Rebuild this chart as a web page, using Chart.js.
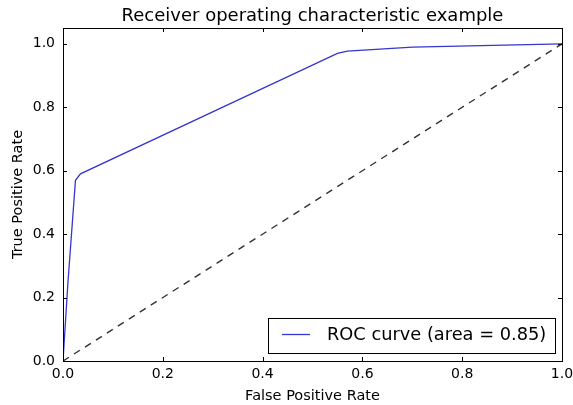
<!DOCTYPE html>
<html>
<head>
<meta charset="utf-8">
<script src="https://cdn.jsdelivr.net/npm/chart.js@4.4.0/dist/chart.umd.min.js"></script>
<style>
  html, body { margin: 0; padding: 0; background: #fff; }
  #wrap { width: 573px; height: 405px; }
</style>
</head>
<body>
<div id="wrap"><canvas id="roc"></canvas></div>
<script>
// ROC curve
var fpr = [0.0, 0.01, 0.025, 0.035, 0.55, 0.57, 0.70, 1.0]
var tpr = [0.0, 0.25, 0.57, 0.59, 0.97, 0.977, 0.99, 1.0]
var diagX = [0, 1]
var diagY = [0, 1]
var tickVals = [0.0, 0.2, 0.4, 0.6, 0.8, 1.0]
var legendText = 'ROC curve (area = 0.85)'
var titleText = 'Receiver operating characteristic example'

var FONT = "'DejaVu Sans', sans-serif"

function pts(xs, ys) {
    return xs.map(function (x, i) { return {x: x, y: ys[i]} })
}

// frame, inward ticks, title and legend box (matplotlib look)
var mplLook = {
    id: 'mplLook',
    afterDraw: function (chart) {
        var ctx = chart.ctx
        var a = chart.chartArea
        var sx = chart.scales.x, sy = chart.scales.y
        ctx.save()
        ctx.strokeStyle = '#000'
        ctx.lineWidth = 1
        ctx.strokeRect(Math.round(a.left) + 0.5, Math.round(a.top) + 0.5,
            Math.round(a.right - a.left), Math.round(a.bottom - a.top))
        ctx.beginPath()
        tickVals.forEach(function (v) {
            var px = Math.round(sx.getPixelForValue(v)) + 0.5
            ctx.moveTo(px, a.bottom); ctx.lineTo(px, a.bottom - 4)
            ctx.moveTo(px, a.top); ctx.lineTo(px, a.top + 4)
            var py = Math.round(sy.getPixelForValue(v)) + 0.5
            ctx.moveTo(a.left, py); ctx.lineTo(a.left + 4, py)
            ctx.moveTo(a.right, py); ctx.lineTo(a.right - 4, py)
        })
        ctx.stroke()

        // title
        ctx.fillStyle = '#000'
        ctx.font = '18px ' + FONT
        ctx.textAlign = 'center'
        ctx.textBaseline = 'alphabetic'
        ctx.fillText(titleText, (a.left + a.right) / 2, 21)

        // legend
        var bx = 268, by = 318, bw = 287, bh = 35
        ctx.fillStyle = '#fff'
        ctx.fillRect(bx, by, bw, bh)
        ctx.strokeRect(bx + 0.5, by + 0.5, bw, bh)
        ctx.strokeStyle = chart.data.datasets[0].borderColor
        ctx.lineWidth = 1.3
        ctx.beginPath()
        ctx.moveTo(bx + 14, by + 16.5)
        ctx.lineTo(bx + 42, by + 16.5)
        ctx.stroke()
        ctx.fillStyle = '#000'
        ctx.font = '17.8px ' + FONT
        ctx.textAlign = 'left'
        ctx.textBaseline = 'middle'
        ctx.fillText(legendText, bx + 59, by + 17)
        ctx.restore()
    }
}

new Chart(document.getElementById('roc'), {
    type: 'scatter',
    data: {
        datasets: [{
            label: legendText,
            data: pts(fpr, tpr),
            showLine: true,
            borderColor: '#3535cf',
            borderWidth: 1.3,
            pointRadius: 0,
            tension: 0
        }, {
            label: 'diag',
            data: pts(diagX, diagY),
            showLine: true,
            borderColor: '#333',
            borderWidth: 1.4,
            borderDash: [7, 6],
            pointRadius: 0
        }]
    },
    options: {
        responsive: true,
        maintainAspectRatio: false,
        animation: false,
        layout: { padding: { top: 28, right: 11, left: 0, bottom: 0 } },
        plugins: {
            legend: { display: false },
            tooltip: { enabled: false },
            title: { display: false }
        },
        scales: {
            x: {
                type: 'linear',
                min: 0, max: 1,
                afterBuildTicks: function (s) { s.ticks = tickVals.map(function (v) { return {value: v} }) },
                afterFit: function (s) { s.height = 44; s.paddingLeft = 0; s.paddingRight = 0 },
                grid: { display: false, drawTicks: false },
                border: { display: false },
                ticks: {
                    padding: 5,
                    color: '#000',
                    font: { family: FONT, size: 14 },
                    callback: function (v) { return v.toFixed(1) }
                },
                title: {
                    display: true,
                    text: 'False Positive Rate',
                    color: '#000',
                    font: { family: FONT, size: 14.5 },
                    padding: { top: 0, bottom: 0 }
                }
            },
            y: {
                type: 'linear',
                min: 0, max: 1.05,
                afterBuildTicks: function (s) { s.ticks = tickVals.map(function (v) { return {value: v} }) },
                afterFit: function (s) { s.width = 63; s.paddingTop = 0; s.paddingBottom = 0 },
                grid: { display: false, drawTicks: false },
                border: { display: false },
                ticks: {
                    padding: 8,
                    color: '#000',
                    font: { family: FONT, size: 14 },
                    callback: function (v) { return v.toFixed(1) }
                },
                title: {
                    display: true,
                    text: 'True Positive Rate',
                    color: '#000',
                    font: { family: FONT, size: 14.5 },
                    padding: { top: 10, bottom: 0 }
                }
            }
        }
    },
    plugins: [mplLook]
})
</script>
</body>
</html>
